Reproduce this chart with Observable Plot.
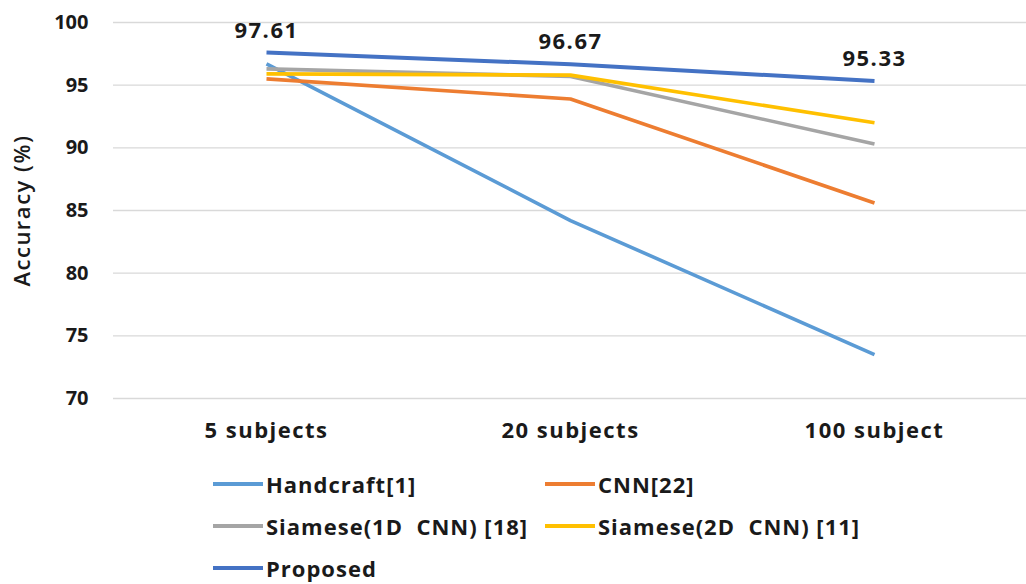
<!DOCTYPE html>
<html>
<head>
<meta charset="utf-8">
<script src="https://cdn.jsdelivr.net/npm/d3@7"></script>
<script src="https://cdn.jsdelivr.net/npm/@observablehq/plot@0.6"></script>
<style>
  html, body { margin: 0; padding: 0; background: #fff; }
  body { width: 1026px; height: 584px; overflow: hidden; font-family: "Open Sans", "Noto Sans", sans-serif; }
  #chart svg { display: block; }
  .legend { position: relative; height: 134px; font-weight: 700; font-size: 22px; color: #1a1a1a; letter-spacing: 1px; }
  .item { position: absolute; display: flex; align-items: center; height: 42px; white-space: nowrap; }
  .sw { width: 50px; height: 4px; margin-right: 3px; }
</style>
</head>
<body>
<div id="chart"></div>
<div class="legend" id="legend"></div>
<script>
// Categories on the x axis
const groups = ["5 subjects", "20 subjects", "100 subject"];

// Accuracy (%) of each method per group
const handcraft = [96.7, 84.2, 73.5];
const cnn = [95.5, 93.9, 85.6];
const siamese1d = [96.3, 95.7, 90.3];
const siamese2d = [95.9, 95.8, 92.0];
const proposed = [97.61, 96.67, 95.33];

const seriesNames = ["Handcraft[1]", "CNN[22]", "Siamese(1D  CNN) [18]", "Siamese(2D  CNN) [11]", "Proposed"];
const seriesValues = [handcraft, cnn, siamese1d, siamese2d, proposed];
const seriesColors = ["#5B9BD5", "#ED7D31", "#A5A5A5", "#FFC000", "#4472C4"];

const yTicks = [70, 75, 80, 85, 90, 95, 100];

const rows = seriesNames.flatMap((name, i) =>
  groups.map((g, j) => ({ series: name, group: g, value: seriesValues[i][j] }))
);
const proposedRows = groups.map((g, j) => ({ group: g, value: proposed[j] }));

const font = "'Open Sans', 'Noto Sans', sans-serif";

const chart = Plot.plot({
  width: 1026,
  height: 450,
  marginTop: 22,
  marginBottom: 52,
  marginLeft: 113,
  marginRight: 0,
  style: { fontFamily: font, background: "#fff", overflow: "visible" },
  x: { type: "point", domain: groups, padding: 0.5, label: null },
  y: { domain: [70, 100], label: null },
  color: { domain: seriesNames, range: seriesColors },
  marks: [
    Plot.gridY(yTicks, { stroke: "#d9d9d9", strokeOpacity: 1, strokeWidth: 1.3 }),
    Plot.axisY(yTicks, {
      tickSize: 0, tickPadding: 25, fontSize: 20, fontWeight: 700, fill: "#1a1a1a", label: null
    }),
    Plot.axisX({
      tickSize: 0, tickPadding: 24, fontSize: 22, fontWeight: 700, fill: "#1a1a1a", label: null
    }),
    Plot.text(["Accuracy (%)"], {
      frameAnchor: "left", dx: -91, rotate: -90, fontSize: 22, fontWeight: 600, fill: "#1a1a1a",
      textAnchor: "middle"
    }),
    ...seriesNames.map(name =>
      Plot.line(rows.filter(d => d.series === name), {
        x: "group", y: "value", stroke: "series",
        strokeWidth: name === "Proposed" ? 4 : 3.6, strokeLinecap: "butt", strokeLinejoin: "round"
      })
    ),
    Plot.text(proposedRows, {
      x: "group", y: "value", text: d => d.value.toFixed(2), dy: -22,
      fontSize: 22, fontWeight: 700, fill: "#1a1a1a"
    })
  ]
});

// Wider tracking for the category labels, value labels and axis title
d3.select(chart).selectAll('g[aria-label="x-axis tick label"] text').style("letter-spacing", "1.5px");
d3.select(chart).selectAll('g[aria-label="text"] text').style("letter-spacing", "1.5px");
document.getElementById("chart").appendChild(chart);

// Legend laid out in two columns below the plot
const legend = document.getElementById("legend");
const colX = [213, 545];
seriesNames.forEach((name, i) => {
  const item = document.createElement("div");
  item.className = "item";
  item.style.left = colX[i % 2] + "px";
  item.style.top = (13 + Math.floor(i / 2) * 42) + "px";
  const sw = document.createElement("span");
  sw.className = "sw";
  sw.style.background = seriesColors[i];
  const label = document.createElement("span");
  label.textContent = name;
  label.style.whiteSpace = "pre";
  item.appendChild(sw);
  item.appendChild(label);
  legend.appendChild(item);
});
</script>
</body>
</html>
